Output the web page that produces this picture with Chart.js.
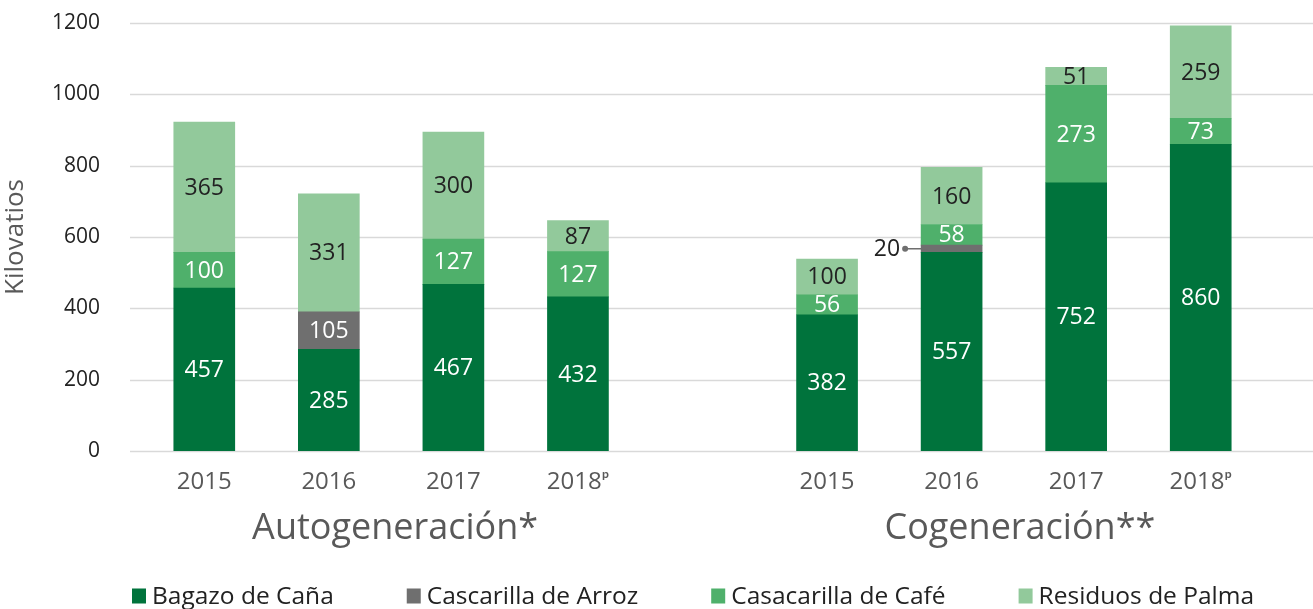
<!DOCTYPE html>
<html lang="es">
<head>
<meta charset="utf-8">
<title>Potencia instalada con biomasa</title>
<script src="https://cdn.jsdelivr.net/npm/chart.js@4.4.1/dist/chart.umd.min.js"></script>
<style>
    html, body { margin: 0; padding: 0; background: #fff; }
    #contenedor { width: 1313px; height: 609px; }
</style>
</head>
<body>
<div id="contenedor"><canvas id="biomasa_chart" width="1313" height="609"></canvas></div>
<script>
// datos (kW)
const categorias = ['2015', '2016', '2017', '2018ᵖ', '', '2015', '2016', '2017', '2018ᵖ'];
const grupos = ['Autogeneración*', 'Cogeneración**'];
const bagazoCana = [457, 285, 467, 432, null, 382, 557, 752, 860];
const cascarillaArroz = [null, 105, null, null, null, null, 20, null, null];
const cascarillaCafe = [100, null, 127, 127, null, 56, 58, 273, 73];
const residuosPalma = [365, 331, 300, 87, null, 100, 160, 51, 259];
const ticksY = [0, 200, 400, 600, 800, 1000, 1200];

const FUENTE = '"Open Sans", Lato, sans-serif';

document.addEventListener('DOMContentLoaded', function () {
    const ctxBiomasa = document.getElementById('biomasa_chart').getContext('2d');

    // lineas de cuadricula un poco mas anchas que el area del grafico
    const cuadricula = {
        id: 'cuadricula',
        beforeDatasetsDraw(chart) {
            const ctx = chart.ctx;
            const ys = chart.scales.y;
            ctx.save();
            ctx.strokeStyle = '#d9d9d9';
            ctx.lineWidth = 1.5;
            ys.ticks.forEach(function (t) {
                const y = Math.round(ys.getPixelForValue(t.value)) + 0.5;
                ctx.beginPath();
                ctx.moveTo(chart.chartArea.left - 12, y);
                ctx.lineTo(chart.width, y);
                ctx.stroke();
            });
            ctx.restore();
        }
    };

    // etiquetas de valor dentro de cada segmento
    const etiquetasValor = {
        id: 'etiquetasValor',
        afterDatasetsDraw(chart) {
            const ctx = chart.ctx;
            ctx.save();
            ctx.font = '23px ' + FUENTE;
            ctx.textBaseline = 'middle';
            chart.data.datasets.forEach(function (ds, i) {
                const meta = chart.getDatasetMeta(i);
                meta.data.forEach(function (bar, j) {
                    const v = ds.data[j];
                    if (v === null || v === undefined) return;
                    const p = bar.getProps(['x', 'y', 'base', 'width'], true);
                    const yc = (p.y + p.base) / 2;
                    if (p.base - p.y < 12) {
                        // segmento muy delgado: etiqueta a la izquierda con guia
                        const x0 = p.x - p.width / 2;
                        ctx.strokeStyle = '#6f6f6f';
                        ctx.fillStyle = '#6f6f6f';
                        ctx.lineWidth = 1.5;
                        ctx.beginPath();
                        ctx.moveTo(x0 + 6, yc);
                        ctx.lineTo(x0 - 16, yc);
                        ctx.stroke();
                        ctx.beginPath();
                        ctx.arc(x0 - 16, yc, 3, 0, Math.PI * 2);
                        ctx.fill();
                        ctx.fillStyle = '#222';
                        ctx.textAlign = 'right';
                        ctx.fillText(v, x0 - 21, yc + 1);
                    } else {
                        ctx.fillStyle = ds.colorEtiqueta;
                        ctx.textAlign = 'center';
                        ctx.fillText(v, p.x, yc + 1);
                    }
                });
            });
            ctx.restore();
        }
    };

    // nombres de grupo y leyenda dibujada a mano
    const textosExtra = {
        id: 'textosExtra',
        afterDraw(chart) {
            const ctx = chart.ctx;
            const xs = chart.scales.x;
            ctx.save();
            ctx.font = '36px ' + FUENTE;
            ctx.fillStyle = '#595959';
            ctx.textAlign = 'center';
            ctx.textBaseline = 'middle';
            const c1 = (xs.getPixelForValue(0) + xs.getPixelForValue(3)) / 2;
            const c2 = (xs.getPixelForValue(5) + xs.getPixelForValue(8)) / 2;
            ctx.fillText(grupos[0], c1 + 4, xs.top + 78);
            ctx.fillText(grupos[1], c2 + 6, xs.top + 78);

            // leyenda
            ctx.font = '24.5px ' + FUENTE;
            ctx.textAlign = 'left';
            const yL = chart.height - 13;
            let x = chart.chartArea.left - 10;
            chart.data.datasets.forEach(function (ds) {
                ctx.fillStyle = ds.backgroundColor;
                ctx.fillRect(x, yL - 7.5, 14, 15);
                ctx.fillStyle = '#222';
                ctx.fillText(ds.label, x + 20, yL + 1);
                x += 20 + ctx.measureText(ds.label).width + 73;
            });
            ctx.restore();
        }
    };

    new Chart(ctxBiomasa, {
        type: 'bar',
        data: {
            labels: categorias,
            datasets: [
                { label: 'Bagazo de Caña', data: bagazoCana, backgroundColor: '#00733c', colorEtiqueta: '#ffffff' },
                { label: 'Cascarilla de Arroz', data: cascarillaArroz, backgroundColor: '#6f6f6f', colorEtiqueta: '#ffffff' },
                { label: 'Casacarilla de Café', data: cascarillaCafe, backgroundColor: '#4fb06b', colorEtiqueta: '#ffffff' },
                { label: 'Residuos de Palma', data: residuosPalma, backgroundColor: '#92c99b', colorEtiqueta: '#222222' }
            ]
        },
        options: {
            responsive: false,
            animation: false,
            barThickness: 61,
            borderWidth: 0,
            layout: { padding: { top: 0, right: 50, bottom: 58, left: 0 } },
            scales: {
                x: {
                    stacked: true,
                    grid: { display: false },
                    border: { display: false },
                    ticks: { color: '#595959', font: { family: FUENTE, size: 24 }, padding: 9 },
                    afterFit: function (scale) { scale.height = 100; }
                },
                y: {
                    stacked: true,
                    min: 0,
                    max: 1200,
                    afterBuildTicks: function (scale) {
                        scale.ticks = ticksY.map(v => ({ value: v }));
                    },
                    afterFit: function (scale) {
                        scale.width = 142;
                        scale.paddingTop = 23;
                        scale.paddingBottom = 0;
                    },
                    grid: { display: false },
                    border: { display: false },
                    ticks: {
                        color: '#222',
                        font: { family: FUENTE, size: 21 },
                        padding: 34,
                        callback: function (v) { return String(v); }
                    },
                    title: {
                        display: true,
                        text: 'Kilovatios',
                        color: '#595959',
                        font: { family: FUENTE, size: 26 },
                        padding: { top: 0, bottom: 0 }
                    }
                }
            },
            plugins: {
                legend: { display: false },
                tooltip: { enabled: false }
            }
        },
        plugins: [cuadricula, etiquetasValor, textosExtra]
    });
});
</script>
</body>
</html>
